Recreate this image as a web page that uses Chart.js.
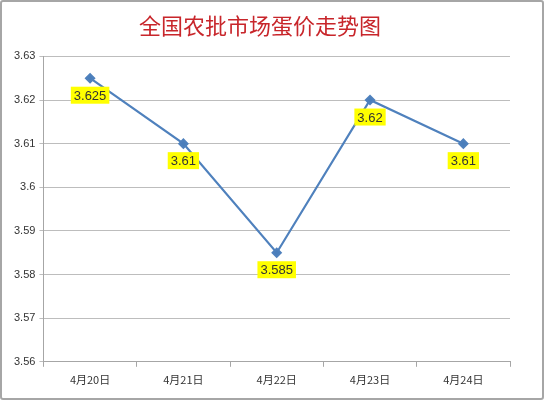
<!DOCTYPE html>
<html>
<head>
<meta charset="utf-8">
<script src="https://cdn.jsdelivr.net/npm/chart.js@4"></script>
<style>
  body { margin: 0; background: #fff; }
  #wrap {
    width: 544px; height: 400px; box-sizing: border-box;
    border: 2px solid #a6a6a6; border-radius: 3px;
  }
</style>
</head>
<body>
<div id="wrap"><canvas id="eggChart"></canvas></div>
<script>
// data
const dates = ["4月20日", "4月21日", "4月22日", "4月23日", "4月24日"];
const prices = [3.625, 3.61, 3.585, 3.62, 3.61];
const yTicks = [3.56, 3.57, 3.58, 3.59, 3.6, 3.61, 3.62, 3.63];

/* yellow value boxes under each point */
const valueBoxes = {
  id: "valueBoxes",
  afterDatasetsDraw(chart) {
    const ctx = chart.ctx;
    const meta = chart.getDatasetMeta(0);
    ctx.save();
    ctx.font = "13px 'Liberation Sans', Arial, sans-serif";
    ctx.textAlign = "center";
    ctx.textBaseline = "middle";
    meta.data.forEach((pt, i) => {
      const txt = String(prices[i]);
      const w = ctx.measureText(txt).width + 6;
      const h = 17;
      const cx = pt.x;
      const cy = pt.y + 17;
      ctx.fillStyle = "#ffff00";
      ctx.fillRect(cx - w / 2, cy - h / 2, w, h);
      ctx.fillStyle = "#333";
      ctx.fillText(txt, cx, cy + 1);
    });
    ctx.restore();
  },
};

new Chart(document.getElementById("eggChart"), {
  type: "line",
  data: {
    labels: dates,
    datasets: [
      {
        data: prices,
        borderColor: "#4f81bd",
        backgroundColor: "#4a7ebb",
        borderWidth: 2.2,
        pointStyle: "rectRot",
        pointRadius: 4,
        tension: 0,
      },
    ],
  },
  options: {
    responsive: true,
    maintainAspectRatio: false,
    animation: false,
    layout: { padding: { left: 8, right: 32, top: 0, bottom: 6 } },
    plugins: {
      legend: { display: false },
      tooltip: { enabled: false },
      title: {
        display: true,
        text: "全国农批市场蛋价走势图",
        color: "#c8262b",
        font: { size: 22, family: "'Noto Sans CJK SC', sans-serif", weight: "normal" },
        padding: { top: 10, bottom: 18 },
      },
    },
    scales: {
      x: {
        offset: true,
        grid: {
          offset: true,
          drawOnChartArea: false,
          drawTicks: true,
          tickLength: 5,
          color: "#a6a6a6",
        },
        border: { color: "#a6a6a6" },
        ticks: {
          color: "#333",
          font: { size: 11, family: "'Noto Sans CJK SC', sans-serif" },
          padding: 6,
        },
      },
      y: {
        min: 3.56,
        max: 3.63,
        afterBuildTicks(axis) {
          axis.ticks = yTicks.map((v) => ({ value: v }));
        },
        grid: { color: "#bdbdbd", tickLength: 4 },
        border: { color: "#a6a6a6" },
        ticks: {
          color: "#333",
          font: { size: 11, family: "'Liberation Sans', Arial, sans-serif" },
          padding: 4,
          callback: (v) => String(Math.round(v * 1000) / 1000),
        },
      },
    },
  },
  plugins: [valueBoxes],
});
</script>
</body>
</html>
